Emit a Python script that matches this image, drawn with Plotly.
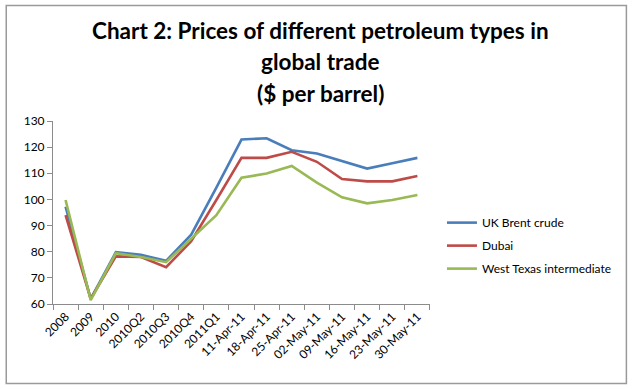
import plotly.graph_objects as go

categories = ["2008", "2009", "2010", "2010Q2", "2010Q3", "2010Q4", "2011Q1",
              "11-Apr-11", "18-Apr-11", "25-Apr-11", "02-May-11", "09-May-11",
              "16-May-11", "23-May-11", "30-May-11"]
brent = [97.2, 62.0, 79.8, 78.8, 76.5, 86.5, 104.5, 122.9, 123.4, 118.8, 117.6, 114.8, 111.8, 113.8, 115.9]
dubai = [94.0, 62.0, 78.2, 78.0, 74.1, 84.0, 99.8, 115.9, 115.9, 118.2, 114.4, 107.8, 106.9, 106.9, 109.0]
wti = [99.8, 61.5, 79.4, 78.0, 76.0, 85.0, 94.0, 108.3, 109.9, 112.8, 106.4, 100.8, 98.5, 99.8, 101.7]

series = [("UK Brent crude", brent, "#4A7EBB"),
          ("Dubai", dubai, "#BE4B48"),
          ("West Texas intermediate", wti, "#98B954")]

title_lines = ["Chart 2: Prices of different petroleum types in", "global trade", "($ per barrel)"]
title_y_px = [31, 62, 93]

FONT = "Lato, Calibri, sans-serif"
W, H = 635, 389
L, R, T, B = 53, 203, 121, 85
PW, PH = W - L - R, H - T - B


def px_x(x):
    return (x - L) / PW


def px_y(y):
    return 1 - (y - T) / PH


fig = go.Figure()
for i, (name, vals, col) in enumerate(series):
    fig.add_trace(go.Scatter(x=categories, y=vals, name=name, mode="lines",
                             legendgroup="g%d" % i,
                             line=dict(color=col, width=2.6)))

annotations = [dict(text="<b>%s</b>" % t, xref="paper", yref="paper",
                    x=px_x(W / 2 + 4), y=px_y(yp), xanchor="center", yanchor="middle",
                    showarrow=False, font=dict(family=FONT, size=22.5, color="#000000"))
               for t, yp in zip(title_lines, title_y_px)]

shapes = [dict(type="rect", xref="paper", yref="paper",
               x0=px_x(6), x1=px_x(629.5), y0=px_y(383.5), y1=px_y(5.5),
               line=dict(color="#9A9A9A", width=1.5), fillcolor="rgba(0,0,0,0)", layer="above")]

fig.update_layout(
    width=W, height=H,
    margin=dict(l=L, r=R, t=T, b=B),
    paper_bgcolor="white", plot_bgcolor="white",
    font=dict(family=FONT, size=12, color="#000000"),
    showlegend=True,
    legend=dict(x=0.696, xref="container", y=0.465, yref="container",
                xanchor="left", yanchor="top",
                font=dict(family=FONT, size=12), tracegroupgap=4,
                itemwidth=30, bgcolor="rgba(0,0,0,0)"),
    annotations=annotations,
    shapes=shapes,
)
fig.update_xaxes(type="category", range=[-0.5, len(categories) - 0.5],
                 showline=True, linecolor="#8C8C8C", linewidth=1,
                 ticks="outside", tickson="boundaries", ticklen=5, tickcolor="#8C8C8C",
                 tickangle=-45, showgrid=False, zeroline=False,
                 tickfont=dict(family=FONT, size=12))
fig.update_yaxes(range=[60, 130], dtick=10, showline=True, linecolor="#8C8C8C", linewidth=1,
                 ticks="outside", ticklen=5, tickcolor="#8C8C8C", showgrid=False, zeroline=False,
                 tickfont=dict(family=FONT, size=12))

fig.write_html("out.html", config={"displayModeBar": False},
               post_script="document.body.style.margin='0';document.body.style.overflow='hidden';")
